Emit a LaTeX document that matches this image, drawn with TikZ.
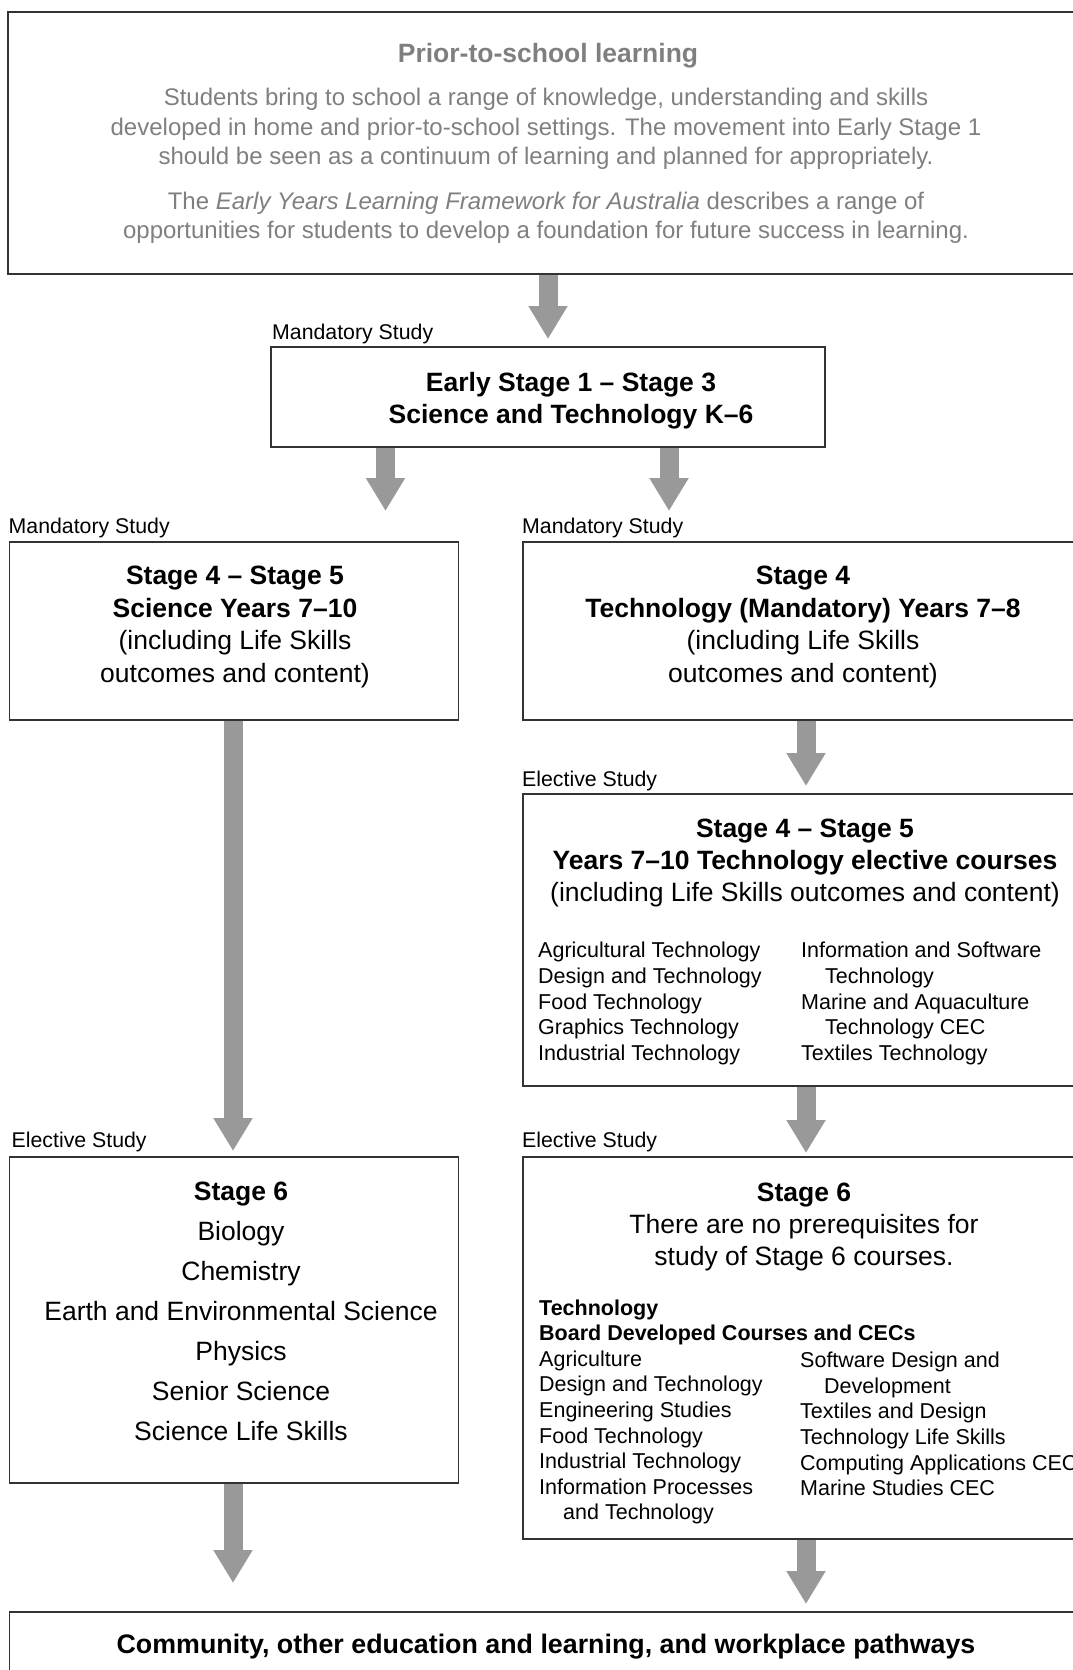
\documentclass[tikz,border=0pt]{standalone}
\usepackage{fontspec}
\setmainfont{Liberation Sans}
\usepackage{xcolor}
\usetikzlibrary{arrows.meta, positioning}
\definecolor{arrowgray}{HTML}{999999}
\definecolor{priorgray}{HTML}{7F7F7F}

\begin{document}
\begin{tikzpicture}[x=1pt, y=-1pt,
	box/.style={draw=black!80, line width=1.2pt, inner sep=0pt},
	fat/.style={draw=arrowgray, line width=19pt, -{Triangle[width=37pt, length=33pt]}},
	tag/.style={anchor=west, inner sep=0pt, font=\fontsize{21.3pt}{25.6pt}\selectfont},
	big/.style={inner sep=0pt, align=center, font=\fontsize{26.5pt}{32.4pt}\selectfont},
	list/.style={anchor=west, inner sep=0pt, align=left, font=\fontsize{21.5pt}{25.6pt}\selectfont}]
		\useasboundingbox (0,0) rectangle (1073,1670);
		% boxes
		\node [box, minimum width=1082pt, minimum height=262pt] (prior) at (549,143) {};
		\node [box, minimum width=554pt, minimum height=100pt] (es1) at (548,397) {};
		\node [box, minimum width=449pt, minimum height=178pt] (sci) at (234.3,631) {};
		\node [box, minimum width=567pt, minimum height=178pt] (techm) at (806.5,631) {};
		\node [box, minimum width=567pt, minimum height=292pt] (techel) at (806.5,940) {};
		\node [box, minimum width=449pt, minimum height=326pt] (sixsci) at (234.3,1320) {};
		\node [box, minimum width=567pt, minimum height=382pt] (sixtech) at (806.5,1348) {};
		\node [box, minimum width=1080pt, minimum height=88pt] (comm) at (549.8,1656) {};
		% prior-to-school text
		\node [inner sep=0pt, text=priorgray, font=\fontsize{26.5pt}{30pt}\selectfont\bfseries] (priortitle) at (548,56) {Prior-to-school learning};
		\node [inner sep=0pt, align=center, text=priorgray, font=\fontsize{24pt}{29.5pt}\selectfont] (priorpara) at (546,129) {Students bring to school a range of knowledge, understanding and skills\\developed in home and prior-to-school settings. The movement into Early Stage 1\\should be seen as a continuum of learning and planned for appropriately.};
		\node [inner sep=0pt, align=center, text=priorgray, font=\fontsize{24pt}{29.5pt}\selectfont] (eylf) at (546,218) {The \textit{Early Years Learning Framework for Australia} describes a range of\\opportunities for students to develop a foundation for future success in learning.};
		% stage texts
		\node [big] (es1text) at (571,401) {\textbf{Early Stage 1 -- Stage 3}\\\textbf{Science and Technology K--6}};
		\node [big] (scitext) at (235,627) {\textbf{Stage 4 -- Stage 5}\\\textbf{Science Years 7--10}\\(including Life Skills\\outcomes and content)};
		\node [big] (techmtext) at (803,627) {\textbf{Stage 4}\\\textbf{Technology (Mandatory) Years 7--8}\\(including Life Skills\\outcomes and content)};
		\node [big] (techeltext) at (805,863) {\textbf{Stage 4 -- Stage 5}\\\textbf{Years 7--10 Technology elective courses}\\(including Life Skills outcomes and content)};
		\node [list] (techelleft) at (538,1003.5) {Agricultural Technology\\Design and Technology\\Food Technology\\Graphics Technology\\Industrial Technology};
		\node [list] (techelright) at (801,1003.5) {Information and Software\\\hspace*{24pt}Technology\\Marine and Aquaculture\\\hspace*{24pt}Technology CEC\\Textiles Technology};
		\node [inner sep=0pt, align=center, font=\fontsize{26.5pt}{40pt}\selectfont] (sixscitext) at (241,1311) {\textbf{Stage 6}\\Biology\\Chemistry\\Earth and Environmental Science\\Physics\\Senior Science\\Science Life Skills};
		\node [big] (sixtechtext) at (804,1227) {\textbf{Stage 6}\\There are no prerequisites for\\study of Stage 6 courses.};
		\node [list] (sixtechleft) at (539,1412) {\textbf{Technology}\\\textbf{Board Developed Courses and CECs}\\Agriculture\\Design and Technology\\Engineering Studies\\Food Technology\\Industrial Technology\\Information Processes\\\hspace*{24pt}and Technology};
		\node [list] (sixtechright) at (800,1424) {Software Design and\\\hspace*{24pt}Development\\Textiles and Design\\Technology Life Skills\\Computing Applications CEC\\Marine Studies CEC};
		\node [inner sep=0pt, font=\fontsize{26.8pt}{32.4pt}\selectfont\bfseries] (commtext) at (546,1647) {Community, other education and learning, and workplace pathways};
		% study labels
		\node [tag] (mand1) at (272,334) {Mandatory Study};
		\node [tag] (mand2) at (8.5,528) {Mandatory Study};
		\node [tag] (mand3) at (522,528) {Mandatory Study};
		\node [tag] (elec1) at (522,781) {Elective Study};
		\node [tag] (elec2) at (11.5,1142) {Elective Study};
		\node [tag] (elec3) at (522,1142) {Elective Study};
		% arrows
		\coordinate (tipa) at (548,339);
		\coordinate (tipb) at (385.5,511);
		\coordinate (tipc) at (669,511);
		\coordinate (tipd) at (233,1151);
		\coordinate (tipe) at (806,786);
		\coordinate (tipf) at (806,1153);
		\coordinate (tipg) at (233,1583);
		\coordinate (tiph) at (806,1604);
		\path [fat] (prior.south -| tipa) -- (tipa);
		\path [fat] (es1.south -| tipb) -- (tipb);
		\path [fat] (es1.south -| tipc) -- (tipc);
		\path [fat] (sci.south -| tipd) -- (tipd);
		\path [fat] (techm.south -| tipe) -- (tipe);
		\path [fat] (techel.south -| tipf) -- (tipf);
		\path [fat] (sixsci.south -| tipg) -- (tipg);
		\path [fat] (sixtech.south -| tiph) -- (tiph);
\end{tikzpicture}
\end{document}
